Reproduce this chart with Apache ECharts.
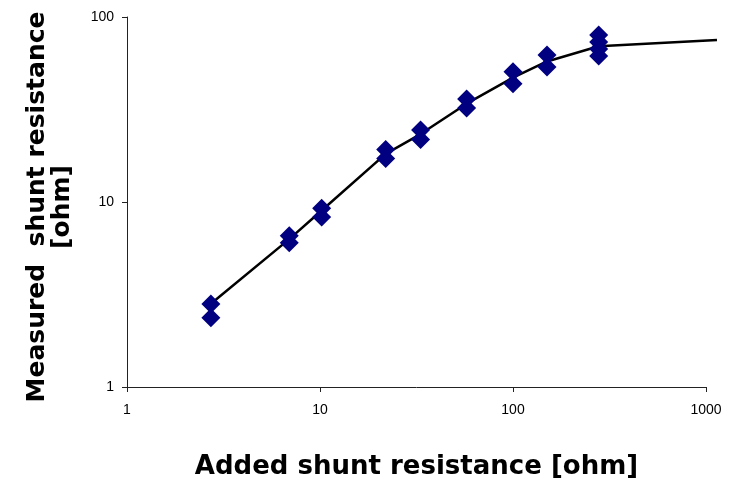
<!DOCTYPE html>
<html>
<head>
<meta charset="utf-8">
<style>
  html, body { margin: 0; padding: 0; background: #ffffff; }
  #chart { width: 729px; height: 485px; }
</style>
<script src="https://cdn.jsdelivr.net/npm/echarts@6/dist/echarts.min.js"></script>
</head>
<body>
<div id="chart"></div>
<script>
// Added shunt resistance for each measurement group [ohm]
const addedR = [2.72, 6.93, 10.2, 21.9, 33.2, 57.5, 100, 150, 278];
// Measured shunt resistance, repeated measurements per group [ohm]
const measuredR = [
  [2.81, 2.37],
  [6.57, 6.03],
  [9.25, 8.3],
  [19.2, 17.2],
  [24.5, 21.8],
  [36.0, 32.2],
  [50.6, 43.6],
  [62.3, 53.7],
  [79.9, 73.3, 67.2, 61.5]
];
// Fitted curve through the measurements (runs a little past the last tick)
const fitX = [2.72, 6.93, 10.2, 21.9, 33.2, 57.5, 100, 150, 278, 1140];
const fitY = [2.82, 6.3, 9.0, 18.2, 23.3, 34.0, 47.0, 57.5, 69.5, 75.1];
// Axis ranges
const xRange = [1, 1000];
const yRange = [1, 100];
const xTicks = ['1', '10', '100', '1000'];
const yTicks = ['1', '10', '100'];

const points = [];
addedR.forEach((x, i) => measuredR[i].forEach(y => points.push([x, y])));
const curve = fitX.map((x, i) => [x, fitY[i]]);

const tickFont = 'Liberation Sans, Arial, Helvetica, sans-serif';
const titleFont = 'DejaVu Sans, Verdana, sans-serif';

// Plot area geometry; the second grid shares the same log scale but
// reaches to the end of the fitted curve, so the tail is not cut off.
const L = 127, T = 17, B = 98, R = 23;
const decadePx = (729 - L - R) / Math.log10(xRange[1] / xRange[0]);
const tailRight = 729 - (L + decadePx * Math.log10(fitX[fitX.length - 1] / xRange[0]));

const chart = echarts.init(document.getElementById('chart'), null, { renderer: 'canvas' });
chart.setOption({
  animation: false,
  backgroundColor: '#ffffff',
  grid: [
    { left: L, right: R, top: T, bottom: B, containLabel: false, outerBoundsMode: 'none' },
    { left: L, right: tailRight, top: T, bottom: B, containLabel: false, outerBoundsMode: 'none' }
  ],
  xAxis: [
    {
      type: 'log', logBase: 10, min: xRange[0], max: xRange[1], gridIndex: 0,
      name: 'Added shunt resistance [ohm]',
      nameLocation: 'middle', nameGap: 67,
      nameTextStyle: { fontFamily: titleFont, fontWeight: 'bold', fontSize: 26, color: '#000' },
      axisLine: { lineStyle: { color: '#222', width: 1 } },
      axisTick: { length: 5, lineStyle: { color: '#222' } },
      axisLabel: {
        fontFamily: tickFont, fontSize: 14, color: '#000', margin: 16,
        formatter: v => xTicks[Math.round(Math.log10(v))]
      },
      splitLine: { show: false }, minorTick: { show: false }
    },
    {
      type: 'log', logBase: 10, min: xRange[0], max: fitX[fitX.length - 1], gridIndex: 1,
      show: false
    }
  ],
  yAxis: [
    {
      type: 'log', logBase: 10, min: yRange[0], max: yRange[1], gridIndex: 0,
      name: 'Measured  shunt resistance\n[ohm]',
      nameLocation: 'middle', nameGap: 52, nameRotate: 90,
      nameTextStyle: {
        fontFamily: titleFont, fontWeight: 'bold', fontSize: 25, color: '#000',
        lineHeight: 25, align: 'center', padding: [0, 10, 0, 0]
      },
      axisLine: { show: true, lineStyle: { color: '#222', width: 1 } },
      axisTick: { show: true, length: 5, lineStyle: { color: '#222' } },
      axisLabel: {
        fontFamily: tickFont, fontSize: 14, color: '#000', margin: 13,
        formatter: v => yTicks[Math.round(Math.log10(v))]
      },
      splitLine: { show: false }, minorTick: { show: false }
    },
    {
      type: 'log', logBase: 10, min: yRange[0], max: yRange[1], gridIndex: 1,
      show: false
    }
  ],
  series: [
    {
      type: 'line', data: curve, xAxisIndex: 1, yAxisIndex: 1,
      smooth: false, showSymbol: false, clip: false,
      lineStyle: { color: '#000', width: 2.5, join: 'round' }, z: 2
    },
    {
      type: 'scatter', data: points, xAxisIndex: 0, yAxisIndex: 0,
      symbol: 'diamond', symbolSize: [19, 19],
      itemStyle: { color: '#000080', opacity: 1 }, z: 3
    }
  ]
});
</script>
</body>
</html>
